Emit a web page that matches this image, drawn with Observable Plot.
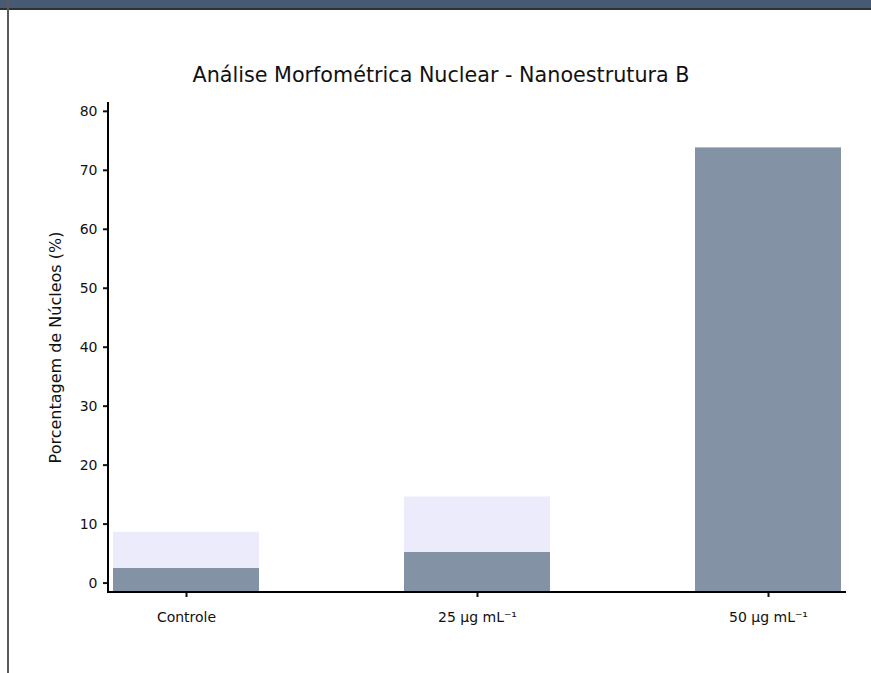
<!DOCTYPE html>
<html>
<head>
<meta charset="utf-8">
<script src="https://cdn.jsdelivr.net/npm/d3@7"></script>
<script src="https://cdn.jsdelivr.net/npm/@observablehq/plot@0.6"></script>
<style>
  html, body { margin: 0; padding: 0; background: #fff; width: 871px; height: 673px; overflow: hidden; }
  #header { position: absolute; left: 0; top: 0; width: 871px; height: 8px; background: #485a72; border-bottom: 2px solid #2c3238; z-index: 2; }
  #leftline { position: absolute; left: 7px; top: 0; width: 2px; height: 673px; background: #5a5a5a; z-index: 2; }
  #title { position: absolute; left: 8px; width: 866px; top: 63px; text-align: center; font-family: "DejaVu Sans", sans-serif; font-size: 20.7px; color: #111; z-index: 1; }
  #chart { position: absolute; left: 0; top: 0; }
</style>
</head>
<body>
<div id="header"></div>
<div id="leftline"></div>
<div id="title">Análise Morfométrica Nuclear - Nanoestrutura B</div>
<div id="chart"></div>
<script>
const categories = ["Controle", "25 µg mL⁻¹", "50 µg mL⁻¹"];
const lowerValues = [2.5, 5.2, 73.8];   // gray segment (%)
const upperValues = [6.1, 9.4, 0];      // lavender segment (%)
const yTicks = [0, 10, 20, 30, 40, 50, 60, 70, 80];
const yLabel = "Porcentagem de Núcleos (%)";
const yMin = -1.6, yMax = 81.5;

const rows = [];
categories.forEach((c, i) => {
  rows.push({cat: c, series: "lower", y1: yMin, y2: lowerValues[i]});
  rows.push({cat: c, series: "upper", y1: lowerValues[i], y2: lowerValues[i] + upperValues[i]});
});

const axisLines = (index, scales, values, dims) => {
  const g = d3.create("svg:g").attr("stroke", "#000").attr("stroke-width", 2);
  const x0 = dims.marginLeft, x1 = dims.width - dims.marginRight;
  const yTop = dims.marginTop, yBot = dims.height - dims.marginBottom;
  g.append("line").attr("x1", x0).attr("x2", x0).attr("y1", yTop).attr("y2", yBot + 1);
  g.append("line").attr("x1", x0 - 1).attr("x2", x1).attr("y1", yBot).attr("y2", yBot);
  return g.node();
};

const chart = Plot.plot({
  width: 871,
  height: 673,
  marginLeft: 108,
  marginRight: 25,
  marginTop: 102,
  marginBottom: 81,
  style: {fontFamily: "'DejaVu Sans', sans-serif", fontSize: "14px", color: "#111", background: "transparent"},
  x: {domain: categories, paddingInner: 0.5, paddingOuter: 0.015, label: null},
  y: {domain: [yMin, yMax], label: null},
  color: {domain: ["lower", "upper"], range: ["#8392a5", "#ebebfb"]},
  marks: [
    Plot.rectY(rows, {x: "cat", y1: "y1", y2: "y2", fill: "series"}),
    Plot.axisY({ticks: yTicks, tickSize: 5, tickPadding: 6, strokeWidth: 2, fontSize: 14, label: null}),
    Plot.axisX({tickSize: 5, tickPadding: 15, strokeWidth: 2, fontSize: 14, label: null}),
    Plot.text([yLabel], {text: d => d, frameAnchor: "left", textAnchor: "middle", rotate: -90, dx: -53, fontSize: 16, fill: "#111"}),
    axisLines
  ]
});
document.getElementById("chart").appendChild(chart);
</script>
</body>
</html>
